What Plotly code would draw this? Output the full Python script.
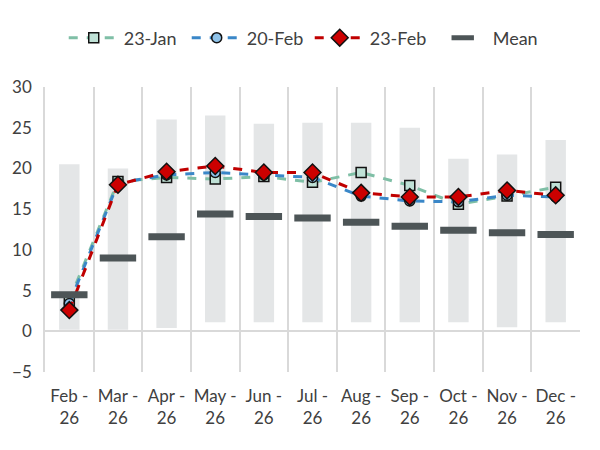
import plotly.graph_objects as go

months = ["Feb -<br>26", "Mar -<br>26", "Apr -<br>26", "May -<br>26", "Jun -<br>26", "Jul -<br>26",
          "Aug -<br>26", "Sep -<br>26", "Oct -<br>26", "Nov -<br>26", "Dec -<br>26"]
range_min = [0.2, 0.2, 0.4, 1.1, 1.1, 1.1, 1.1, 1.1, 1.1, 0.5, 1.1]
range_max = [20.5, 20.0, 26.0, 26.5, 25.5, 25.6, 25.6, 25.0, 21.2, 21.7, 23.5]
mean_vals = [4.5, 9.0, 11.6, 14.4, 14.1, 13.9, 13.4, 12.9, 12.4, 12.1, 11.9]
jan23 = [3.8, 18.4, 18.9, 18.7, 19.0, 18.3, 19.5, 17.9, 15.6, 16.6, 17.7]
feb20 = [3.4, 18.2, 19.2, 19.5, 19.2, 18.9, 16.6, 16.0, 15.9, 16.7, 16.5]
feb23 = [2.6, 18.0, 19.6, 20.3, 19.5, 19.5, 17.0, 16.5, 16.5, 17.3, 16.7]

font_family = "Lato, sans-serif"
text_color = "#404040"

fig = go.Figure()

fig.add_trace(go.Bar(
    x=months, y=[a - b for a, b in zip(range_max, range_min)], base=range_min,
    marker=dict(color="#e4e6e7", line=dict(width=0)), width=0.42,
    showlegend=False, hoverinfo="skip"))

fig.add_trace(go.Scatter(
    x=months, y=jan23, name="23-Jan", mode="lines+markers",
    line=dict(color="#7fbfa6", width=3, dash="dash"),
    marker=dict(symbol="square", size=10, color="#bfe1d6", line=dict(color="#111111", width=1.5))))
fig.add_trace(go.Scatter(
    x=months, y=feb20, name="20-Feb", mode="lines+markers",
    line=dict(color="#3a87c8", width=3, dash="dash"),
    marker=dict(symbol="circle", size=10, color="#8fc3ea", line=dict(color="#111111", width=1.5))))
fig.add_trace(go.Scatter(
    x=months, y=feb23, name="23-Feb", mode="lines+markers",
    line=dict(color="#c00000", width=3, dash="dash"),
    marker=dict(symbol="diamond", size=13, color="#cc0000", line=dict(color="#111111", width=1.5))))

fig.add_trace(go.Scatter(
    x=months, y=mean_vals, name="Mean", mode="markers",
    marker=dict(symbol="line-ew", size=26, color="#4d5557",
                line=dict(color="#4d5557", width=7))))

fig.update_layout(
    width=600, height=450,
    margin=dict(l=37, r=28, t=79, b=86, autoexpand=False),
    paper_bgcolor="white", plot_bgcolor="white",
    font=dict(family=font_family, size=17, color=text_color),
    barmode="overlay",
    legend=dict(orientation="h", x=0.035, xanchor="left", y=1.172, yanchor="middle",
                font=dict(size=18, color=text_color), itemwidth=50,
                entrywidth=58, entrywidthmode="pixels",
                traceorder="normal"),
    showlegend=True,
)
fig.update_xaxes(
    type="category", range=[-0.5, 10.5], tickson="boundaries", showgrid=True,
    gridcolor="#d9d9d9", gridwidth=1.5,
    showline=False, ticks="", tickangle=0, automargin=False, ticklabelstandoff=12,
    tickfont=dict(size=17, color=text_color))
fig.update_yaxes(
    range=[-5, 30], dtick=5, showgrid=False, zeroline=True, zerolinecolor="#d9d9d9",
    zerolinewidth=2, showline=True, linecolor="#d9d9d9", linewidth=1.5, automargin=False,
    ticks="", ticklabelstandoff=8, tickfont=dict(size=17, color=text_color))

fig.write_html("out.html")
